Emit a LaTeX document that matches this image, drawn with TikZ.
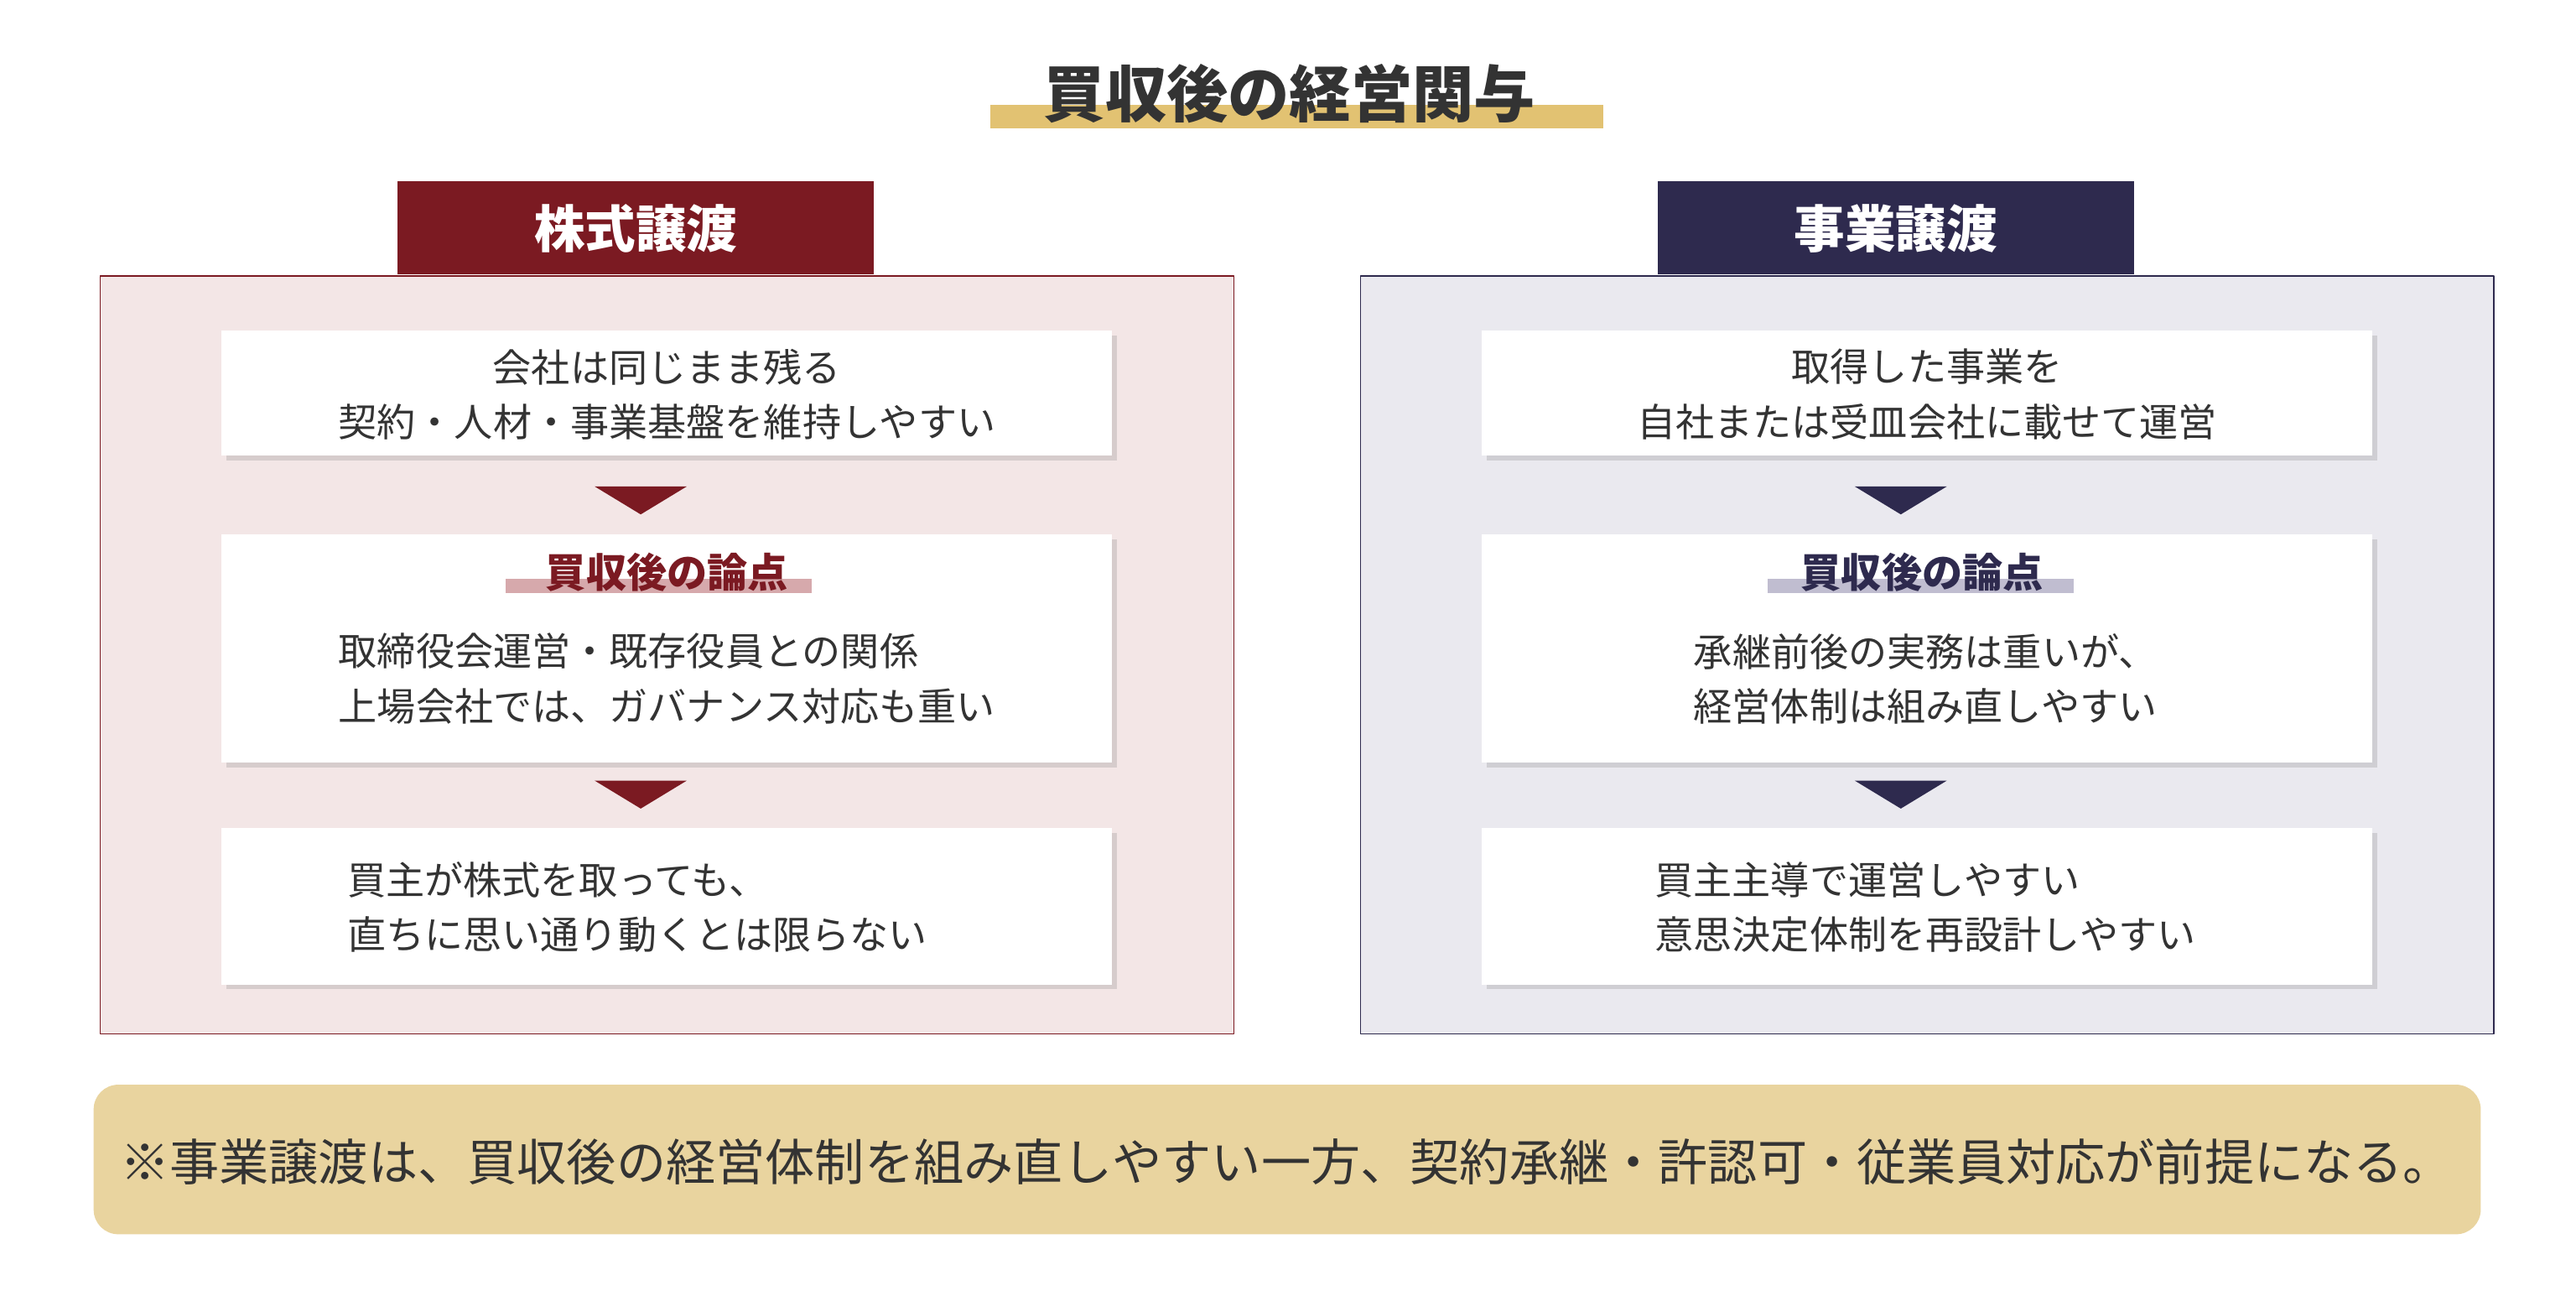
\documentclass[tikz,border=0pt]{standalone}
\usepackage{fontspec}
\setmainfont{Noto Sans CJK JP}
\usetikzlibrary{shadows}
\definecolor{darkred}{HTML}{7B1A22}
\definecolor{navy}{HTML}{2E2A4E}
\definecolor{pinkbg}{HTML}{F3E6E6}
\definecolor{greybg}{HTML}{EAE9EF}
\definecolor{gold}{HTML}{E2C272}
\definecolor{notebg}{HTML}{E9D49F}
\definecolor{pinkbar}{HTML}{D6A9AC}
\definecolor{navybar}{HTML}{C0BDD0}
\definecolor{txt}{HTML}{333333}

\tikzset{
  card/.style={fill=white,drop shadow={shadow xshift=0.06cm,shadow yshift=-0.06cm,opacity=0.25}},
  cardtext/.style={text=txt,font=\fontsize{13.4}{19}\selectfont,align=left},
  header/.style={text=white,font=\bfseries\fontsize{17.6}{20}\selectfont},
  pointlabel/.style={font=\bfseries\fontsize{14}{16}\selectfont},
}

\begin{document}
\begin{tikzpicture}[x=0.02cm,y=-0.02cm,line join=round]
            \useasboundingbox (0,0) rectangle (1568,785.5);
            \fill [white] (0,0) rectangle (1568,785.5);

            % title
            \fill [gold] (603,64) rectangle (976,78);
            \node [text=txt,font=\bfseries\fontsize{21.3}{24}\selectfont] (title) at (785,57) {買収後の経営関与};

            % left panel
            \draw [darkred,fill=pinkbg] (61,168) rectangle (751,629);
            \fill [darkred] (242,110) rectangle (532,167);
            \node [header] (lhead) at (387,139) {株式譲渡};

            % right panel
            \draw [navy,fill=greybg] (828,168) rectangle (1518,629);
            \fill [navy] (1009,110) rectangle (1299,167);
            \node [header] (rhead) at (1154,139) {事業譲渡};

            % cards
            \foreach \x in {135,902} {
            \fill [card] (\x,201) rectangle (\x+542,277);
            \fill [card] (\x,325) rectangle (\x+542,464);
            \fill [card] (\x,504) rectangle (\x+542,599);
            }

            % arrows
            \foreach \y in {296,475} {
            \fill [darkred] (362,\y) -- (418,\y) -- (390,\y+17) -- cycle;
            \fill [navy] (1129,\y) -- (1185,\y) -- (1157,\y+17) -- cycle;
            }

            % left texts
            \node [cardtext,align=center] (l1) at (406,240) {会社は同じまま残る\\契約・人材・事業基盤を維持しやすい};
            \fill [pinkbar] (308,352) rectangle (494,361);
            \node [pointlabel,text=darkred] (l2h) at (406,348) {買収後の論点};
            \node [cardtext] (l2) at (406,413) {取締役会運営・既存役員との関係\\上場会社では、ガバナンス対応も重い};
            \node [cardtext] (l3) at (388,552) {買主が株式を取っても、\\直ちに思い通り動くとは限らない};

            % right texts
            \node [cardtext,align=center] (r1) at (1173,240) {取得した事業を\\自社または受皿会社に載せて運営};
            \fill [navybar] (1076,352) rectangle (1262,361);
            \node [pointlabel,text=navy] (r2h) at (1170,348) {買収後の論点};
            \node [cardtext,align=center] (r2) at (1172,413) {承継前後の実務は重いが、\\経営体制は組み直しやすい};
            \node [cardtext] (r3) at (1172,552) {買主主導で運営しやすい\\意思決定体制を再設計しやすい};

            % note
            \fill [notebg,rounded corners=0.3cm] (57,660) rectangle (1510,751);
            \node [text=txt,font=\fontsize{17.2}{20}\selectfont] (note) at (783,707) {※事業譲渡は、買収後の経営体制を組み直しやすい一方、契約承継・許認可・従業員対応が前提になる。};
            \end{tikzpicture}
\end{document}
